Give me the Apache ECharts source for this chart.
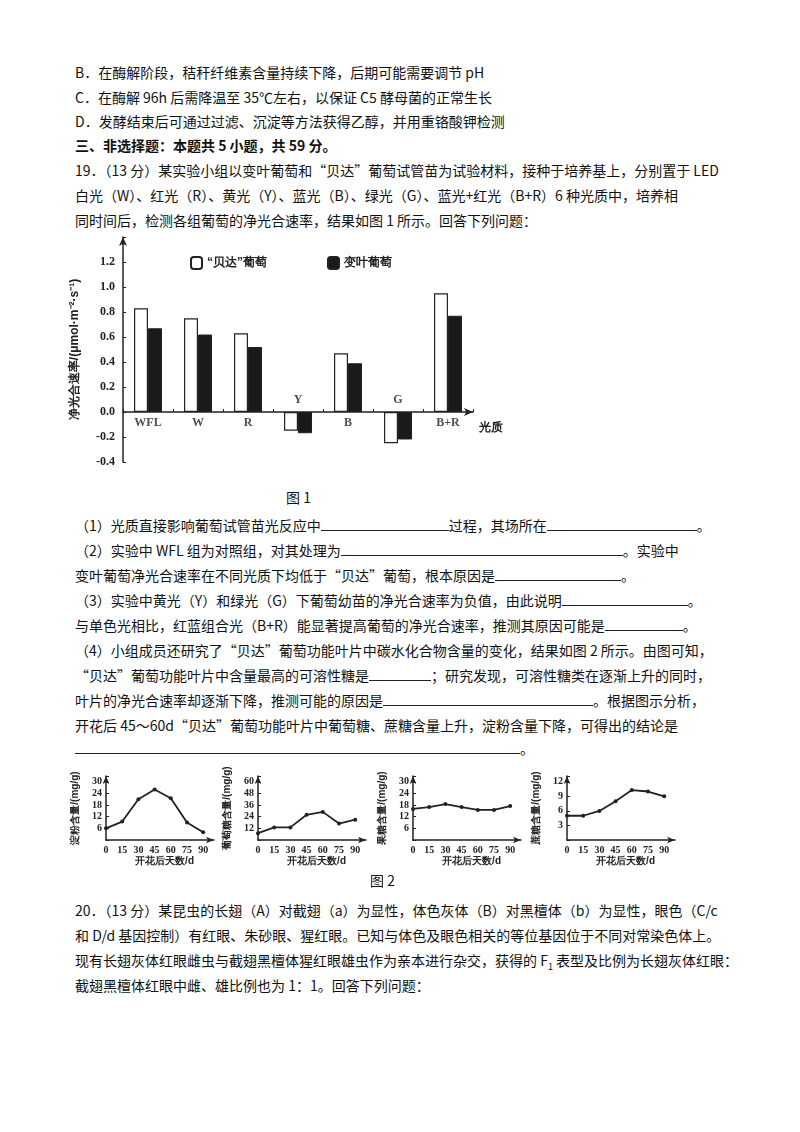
<!DOCTYPE html>
<html><head><meta charset="utf-8">
<script src="https://cdn.jsdelivr.net/npm/echarts@6/dist/echarts.min.js"></script>
<style>
body{margin:0;width:800px;height:1132px;background:#fff;font-family:"Noto Sans CJK SC","Noto Sans",sans-serif;color:#111;position:relative;overflow:hidden}
.t{position:absolute;left:75px;font-size:14px;white-space:nowrap;line-height:20px}
.u{display:inline-block;border-bottom:1px solid #222;height:15px;vertical-align:baseline}
.c{position:absolute}
</style></head><body>
<div class="t" style="top:62px">B．在酶解阶段，秸秆纤维素含量持续下降，后期可能需要调节 pH</div>
<div class="t" style="top:87px">C．在酶解 96h 后需降温至 35℃左右，以保证 C5 酵母菌的正常生长</div>
<div class="t" style="top:111px">D．发酵结束后可通过过滤、沉淀等方法获得乙醇，并用重铬酸钾检测</div>
<div class="t" style="top:135px;font-weight:bold">三、非选择题：本题共 5 小题，共 59 分。</div>
<div class="t" style="top:160px">19．（13 分）某实验小组以变叶葡萄和“贝达”葡萄试管苗为试验材料，接种于培养基上，分别置于 LED</div>
<div class="t" style="top:185px">白光（W）、红光（R）、黄光（Y）、蓝光（B）、绿光（G）、蓝光+红光（B+R）6 种光质中，培养相</div>
<div class="t" style="top:210px">同时间后，检测各组葡萄的净光合速率，结果如图 1 所示。回答下列问题：</div>
<div class="c" id="bar" style="left:40px;top:225px;width:500px;height:260px"></div>
<div class="t" style="top:487px;left:286px">图 1</div>
<div class="t" style="top:515px">（1）光质直接影响葡萄试管苗光反应中<span class="u" style="width:128px"></span>过程，其场所在<span class="u" style="width:150px"></span>。</div>
<div class="t" style="top:540px">（2）实验中 WFL 组为对照组，对其处理为<span class="u" style="width:282px"></span>。实验中</div>
<div class="t" style="top:565px">变叶葡萄净光合速率在不同光质下均低于“贝达”葡萄，根本原因是<span class="u" style="width:126px"></span>。</div>
<div class="t" style="top:590px">（3）实验中黄光（Y）和绿光（G）下葡萄幼苗的净光合速率为负值，由此说明<span class="u" style="width:126px"></span>。</div>
<div class="t" style="top:615px">与单色光相比，红蓝组合光（B+R）能显著提高葡萄的净光合速率，推测其原因可能是<span class="u" style="width:78px"></span>。</div>
<div class="t" style="top:640px">（4）小组成员还研究了“贝达”葡萄功能叶片中碳水化合物含量的变化，结果如图 2 所示。由图可知，</div>
<div class="t" style="top:665px">“贝达”葡萄功能叶片中含量最高的可溶性糖是<span class="u" style="width:62px"></span>；研究发现，可溶性糖类在逐渐上升的同时，</div>
<div class="t" style="top:690px">叶片的净光合速率却逐渐下降，推测可能的原因是<span class="u" style="width:210px"></span>。根据图示分析，</div>
<div class="t" style="top:715px">开花后 45～60d“贝达”葡萄功能叶片中葡萄糖、蔗糖含量上升，淀粉含量下降，可得出的结论是</div>
<div class="t" style="top:738px"><span class="u" style="width:445px"></span>。</div>
<div class="c" id="s1" style="left:60px;top:760px;width:175px;height:110px"></div>
<div class="c" id="s2" style="left:212px;top:760px;width:175px;height:110px"></div>
<div class="c" id="s3" style="left:367px;top:760px;width:175px;height:110px"></div>
<div class="c" id="s4" style="left:521px;top:760px;width:175px;height:110px"></div>
<div class="t" style="top:870px;left:370px">图 2</div>
<div class="t" style="top:900px">20．（13 分）某昆虫的长翅（A）对截翅（a）为显性，体色灰体（B）对黑檀体（b）为显性，眼色（C/c</div>
<div class="t" style="top:925px">和 D/d 基因控制）有红眼、朱砂眼、猩红眼。已知与体色及眼色相关的等位基因位于不同对常染色体上。</div>
<div class="t" style="top:950px">现有长翅灰体红眼雌虫与截翅黑檀体猩红眼雄虫作为亲本进行杂交，获得的 F<sub style="font-size:9px">1</sub> 表型及比例为长翅灰体红眼：</div>
<div class="t" style="top:975px">截翅黑檀体红眼中雌、雄比例也为 1：1。回答下列问题：</div>
<script>
var lightTypes = ['WFL', 'W', 'R', 'Y', 'B', 'G', 'B+R'];
var beidaRate = [0.83, 0.75, 0.63, -0.15, 0.47, -0.25, 0.95];
var bianyeRate = [0.67, 0.62, 0.52, -0.17, 0.39, -0.22, 0.77];
var days = [0, 15, 30, 45, 60, 75, 90];
var starch = [6, 9.5, 21, 26, 21.5, 9, 4];
var glucose = [7, 13, 13, 26, 29, 17, 21];
var fructose = [16, 17, 18.5, 17, 15.5, 15.5, 17.5];
var sucrose = [5, 5, 6, 8, 10.3, 10, 9];

var serif = '"Liberation Serif","DejaVu Serif",serif';
var ink = '#222';

// category names sit on the zero line: above it for negative bars, below otherwise
var nameMarks = lightTypes.map(function (c, i) {
    var neg = beidaRate[i] < 0;
    return {value: [i, 0], label: {position: neg ? 'top' : 'bottom', distance: neg ? 6 : 5}};
});

var bar = echarts.init(document.getElementById('bar'));
bar.setOption({
    animation: false,
    grid: {left: 83, right: 67, top: 12, bottom: 23},
    legend: {
        top: 26, left: 145, itemGap: 60, itemWidth: 11, itemHeight: 12,
        textStyle: {fontSize: 12, color: ink, fontWeight: 'bold'},
        data: ['“贝达”葡萄', '变叶葡萄']
    },
    xAxis: {
        type: 'category', data: lightTypes,
        name: '光质', nameGap: 6, nameTextStyle: {fontSize: 12, fontWeight: 'bold', color: ink, verticalAlign: 'top', padding: [10, 0, 0, 0]},
        axisLine: {onZero: true, lineStyle: {color: ink, width: 1.5}, symbol: ['none', 'arrow'], symbolSize: [6, 9]},
        axisTick: {show: true, inside: true, length: 3, lineStyle: {color: ink}},
        axisLabel: {show: false}
    },
    yAxis: {
        type: 'value', min: -0.4, max: 1.4, interval: 0.2,
        name: '净光合速率/(μmol·m⁻²·s⁻¹)', nameLocation: 'middle', nameGap: 42, nameRotate: 90,
        nameTextStyle: {fontSize: 12, fontWeight: 'bold', color: ink},
        splitLine: {show: false},
        axisLine: {show: true, lineStyle: {color: ink, width: 1.5}, symbol: ['none', 'arrow'], symbolSize: [6, 9]},
        axisTick: {show: true, inside: true, length: 3, lineStyle: {color: ink}},
        axisLabel: {
            fontFamily: serif, fontWeight: 'bold', fontSize: 12, color: ink,
            formatter: function (v) { return v > 1.3 ? '' : v.toFixed(1); }
        }
    },
    series: [
        {name: '“贝达”葡萄', type: 'bar', data: beidaRate, barWidth: 14, barGap: '0%',
            itemStyle: {color: '#fff', borderColor: ink, borderWidth: 1.2}},
        {name: '变叶葡萄', type: 'bar', data: bianyeRate, barWidth: 14,
            itemStyle: {color: '#1a1a1a', borderColor: ink, borderWidth: 1}},
        {type: 'scatter', symbolSize: 0, silent: true, data: nameMarks,
            label: {show: true, fontFamily: serif, fontWeight: 'bold', fontSize: 12, color: ink,
                formatter: function (p) { return lightTypes[p.value[0]]; }}}
    ]
});

function small(id, title, data, max, step, top) {
    var ch = echarts.init(document.getElementById(id));
    ch.setOption({
        animation: false,
        grid: {left: 46, right: 21, top: 16, bottom: 30},
        xAxis: {
            type: 'value', min: 0, max: 100, interval: 15,
            name: '开花后天数/d', nameLocation: 'end', nameGap: 0,
            nameTextStyle: {fontSize: 10, fontWeight: 'bold', color: ink, align: 'right', verticalAlign: 'top', padding: [16, 20, 0, 0]},
            splitLine: {show: false},
            axisLine: {lineStyle: {color: ink, width: 1.5}, symbol: ['none', 'arrow'], symbolSize: [5, 8]},
            axisTick: {show: false},
            axisLabel: {fontFamily: serif, fontWeight: 'bold', fontSize: 10, color: ink, margin: 5,
                formatter: function (v) { return v > 90 ? '' : v; }}
        },
        yAxis: {
            type: 'value', min: 0, max: max, interval: step,
            name: title, nameLocation: 'middle', nameGap: 26, nameRotate: 90,
            nameTextStyle: {fontSize: 10, fontWeight: 'bold', color: ink},
            splitLine: {show: false},
            axisLine: {show: true, lineStyle: {color: ink, width: 1.5}, symbol: ['none', 'arrow'], symbolSize: [5, 8]},
            axisTick: {show: true, inside: true, length: 3, lineStyle: {color: ink}},
            axisLabel: {fontFamily: serif, fontWeight: 'bold', fontSize: 10, color: ink, margin: 4,
                formatter: function (v) { return (v === 0 || v > top) ? '' : v; }}
        },
        series: [{type: 'line', data: days.map(function (d, i) { return [d, data[i]]; }),
            symbol: 'circle', symbolSize: 4, lineStyle: {color: ink, width: 1.8}, itemStyle: {color: ink}}]
    });
}
small('s1', '淀粉含量/(mg/g)', starch, 33, 6, 30);
small('s2', '葡萄糖含量/(mg/g)', glucose, 66, 12, 60);
small('s3', '果糖含量/(mg/g)', fructose, 33, 6, 30);
small('s4', '蔗糖含量/(mg/g)', sucrose, 13.2, 3, 12);
</script>
</body></html>
